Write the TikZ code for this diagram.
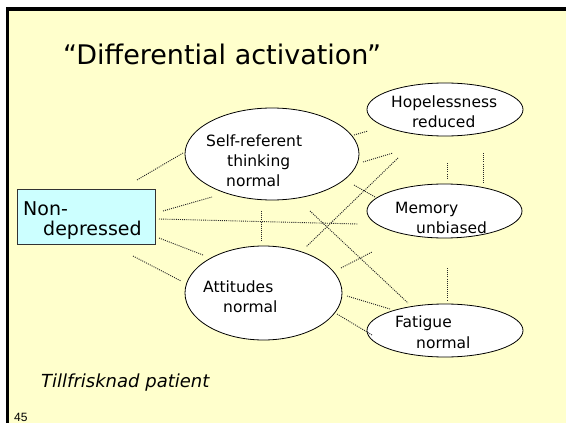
\documentclass[tikz,border=0pt]{standalone}
\usepackage{fontspec}
\setmainfont{DejaVu Sans}
\newfontfamily\numfont{Liberation Sans}
\usetikzlibrary{shapes.geometric}
\definecolor{slideyellow}{HTML}{FFFFCC}
\definecolor{boxcyan}{HTML}{CCFFFF}
\begin{document}
\begin{tikzpicture}[x=1pt,y=-1pt,
  bubble/.style={ellipse, draw=black, line width=0.8pt, fill=white, inner sep=0pt},
  lbl/.style={anchor=base west, inner sep=0pt, font=\fontsize{15.5}{16}\selectfont},
  biglbl/.style={anchor=base west, inner sep=0pt, font=\fontsize{19}{20}\selectfont},
  link/.style={draw=black!85, line width=0.9pt, dash pattern=on 1pt off 1.1pt}]
\useasboundingbox (0,0) rectangle (566,423);
% slide background and frame
\fill[white] (0,0) rectangle (566,423);
\fill[slideyellow] (8,9) rectangle (566,423);
\fill[black] (6,7) rectangle (566,11);
\fill[black] (6,7) rectangle (9,423);

% title
\node[anchor=base west, inner sep=0pt, font=\fontsize{27}{28}\selectfont] (title) at (63,64) {“Differential activation”};

% patient state box
\node[draw=black!80, line width=0.8pt, fill=boxcyan, minimum width=138pt, minimum height=55pt, inner sep=0pt] (nd) at (86,216.5) {};
\node[biglbl] (nd1) at (23,215) {Non-};
\node[biglbl] (nd2) at (43,235) {depressed};

% cognitive components
\node[bubble, minimum width=174pt, minimum height=92pt] (self) at (272,154) {};
\node[lbl] (self1) at (206,146) {Self-referent};
\node[lbl] (self2) at (227,166) {thinking};
\node[lbl] (self3) at (226,186) {normal};

\node[bubble, minimum width=157pt, minimum height=94pt] (att) at (263.5,293) {};
\node[lbl] (att1) at (203,292) {Attitudes};
\node[lbl] (att2) at (223,312) {normal};

\node[bubble, minimum width=156pt, minimum height=53pt] (hope) at (445,109.5) {};
\node[lbl] (hope1) at (391,107) {Hopelessness};
\node[lbl] (hope2) at (412,127) {reduced};

\node[bubble, minimum width=155pt, minimum height=54pt] (mem) at (444.5,211) {};
\node[lbl] (mem1) at (395,213) {Memory};
\node[lbl] (mem2) at (416,233) {unbiased};

\node[bubble, minimum width=156pt, minimum height=53pt] (fat) at (445,330.5) {};
\node[lbl] (fat1) at (395,327) {Fatigue};
\node[lbl] (fat2) at (416,348) {normal};

% dotted link end points
\coordinate (a1) at (137,180);  \coordinate (b1) at (183,153);
\coordinate (a2) at (163,211);  \coordinate (b2) at (212,197);
\coordinate (a3) at (159,219);  \coordinate (b3) at (358,224);
\coordinate (a4) at (159,238);  \coordinate (b4) at (203,255);
\coordinate (a5) at (133,256);  \coordinate (b5) at (181,281);
\coordinate (a6) at (261,211);  \coordinate (b6) at (261,241);
\coordinate (a7) at (354,135);  \coordinate (b7) at (368,131);
\coordinate (a8) at (363,162);  \coordinate (b8) at (393,153);
\coordinate (a9) at (398,158);  \coordinate (b9) at (306,247);
\coordinate (a10) at (354,185); \coordinate (b10) at (375,197);
\coordinate (a11) at (310,211); \coordinate (b11) at (408,303);
\coordinate (a12) at (341,268); \coordinate (b12) at (372,252);
\coordinate (a13) at (347,296); \coordinate (b13) at (390,309);
\coordinate (a14) at (337,314); \coordinate (b14) at (372,335);
\coordinate (a15) at (447,163); \coordinate (b15) at (447,179);
\coordinate (a16) at (483,153); \coordinate (b16) at (483,183);
\coordinate (a17) at (447,268); \coordinate (b17) at (447,300);
\foreach \i in {1,...,17} {\draw[link] (a\i) -- (b\i);}

% captions
\node[anchor=base west, inner sep=0pt, font=\fontsize{18}{18}\selectfont\itshape] (state) at (41,387) {Tillfrisknad patient};
\node[anchor=base west, inner sep=0pt, font=\numfont\fontsize{12}{12}\selectfont] (num) at (14,421) {45};
\end{tikzpicture}
\end{document}
